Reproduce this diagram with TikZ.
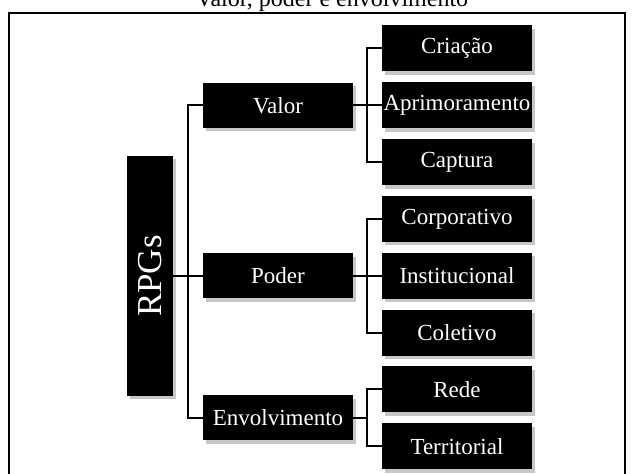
\documentclass[tikz,border=0pt]{standalone}
\usepackage{fontspec}
\setmainfont{Liberation Serif}
\usepackage{tikz}
\usetikzlibrary{shapes.misc, arrows, shadows}

\begin{document}
\begin{tikzpicture}[node distance=28.5pt]
%
% Skiss:
%          |- Valor --------|- Criacao / Aprimoramento / Captura
%  RPGs ---|- Poder --------|- Corporativo / Institucional / Coletivo
%          |- Envolvimento -|- Rede / Territorial
%
\tikzstyle{box} = [rectangle, fill=black, text=white, text centered, inner sep=0pt, drop shadow={shadow xshift=1.6pt, shadow yshift=-1.6pt, fill=black, opacity=0.22}]
\tikzstyle{rootbox} = [box, minimum width=23pt, minimum height=120pt, font=\fontsize{17.5}{19}\selectfont]
\tikzstyle{midbox} = [box, minimum width=75pt, minimum height=22.5pt, font=\fontsize{11.5}{13}\selectfont]
\tikzstyle{leafbox} = [box, minimum width=75pt, minimum height=23pt, font=\fontsize{11.5}{13}\selectfont]
\tikzstyle{link} = [line width=1pt]
\useasboundingbox (-75pt,-99pt) rectangle (242pt,138pt);
% Frame and title
\node (title) [anchor=base, font=\fontsize{12}{14}\selectfont] at (91pt,134.5pt) {Valor, poder e envolvimento};
\draw [line width=0.8pt] (-70.5pt,-99pt) |- (237.5pt,131.5pt) -- (237.5pt,-99pt);
% Nodes
\node (rpgs) [rootbox] {\rotatebox{90}{RPGs}};
\node (poder) [midbox, right of=rpgs, xshift=35.5pt] {Poder};
\node (valor) [midbox, above of=poder, yshift=56.75pt] {Valor};
\node (envol) [midbox, below of=poder, yshift=-42.5pt] {Envolvimento};
\node (aprim) [leafbox, right of=valor, xshift=61pt] {Aprimoramento};
\node (criacao) [leafbox, above of=aprim] {Criação};
\node (captura) [leafbox, below of=aprim] {Captura};
\node (inst) [leafbox, right of=poder, xshift=61pt] {Institucional};
\node (corp) [leafbox, above of=inst] {Corporativo};
\node (colet) [leafbox, below of=inst] {Coletivo};
\node (rede) [leafbox, right of=envol, xshift=61pt, yshift=14.25pt] {Rede};
\node (terr) [leafbox, below of=rede] {Territorial};

% Connectors
\draw [link] (rpgs) -- (poder);
\draw [link] (valor.west) -- ++(-7.5pt,0) |- (envol.west);
\draw [link] (valor) -- (aprim);
\draw [link] (criacao.west) -- ++(-7.5pt,0) |- (captura.west);
\draw [link] (poder) -- (inst);
\draw [link] (corp.west) -- ++(-7.5pt,0) |- (colet.west);
\draw [link] (envol.east) -- ++(7pt,0);
\draw [link] (rede.west) -- ++(-7.5pt,0) |- (terr.west);

\end{tikzpicture}
\end{document}
